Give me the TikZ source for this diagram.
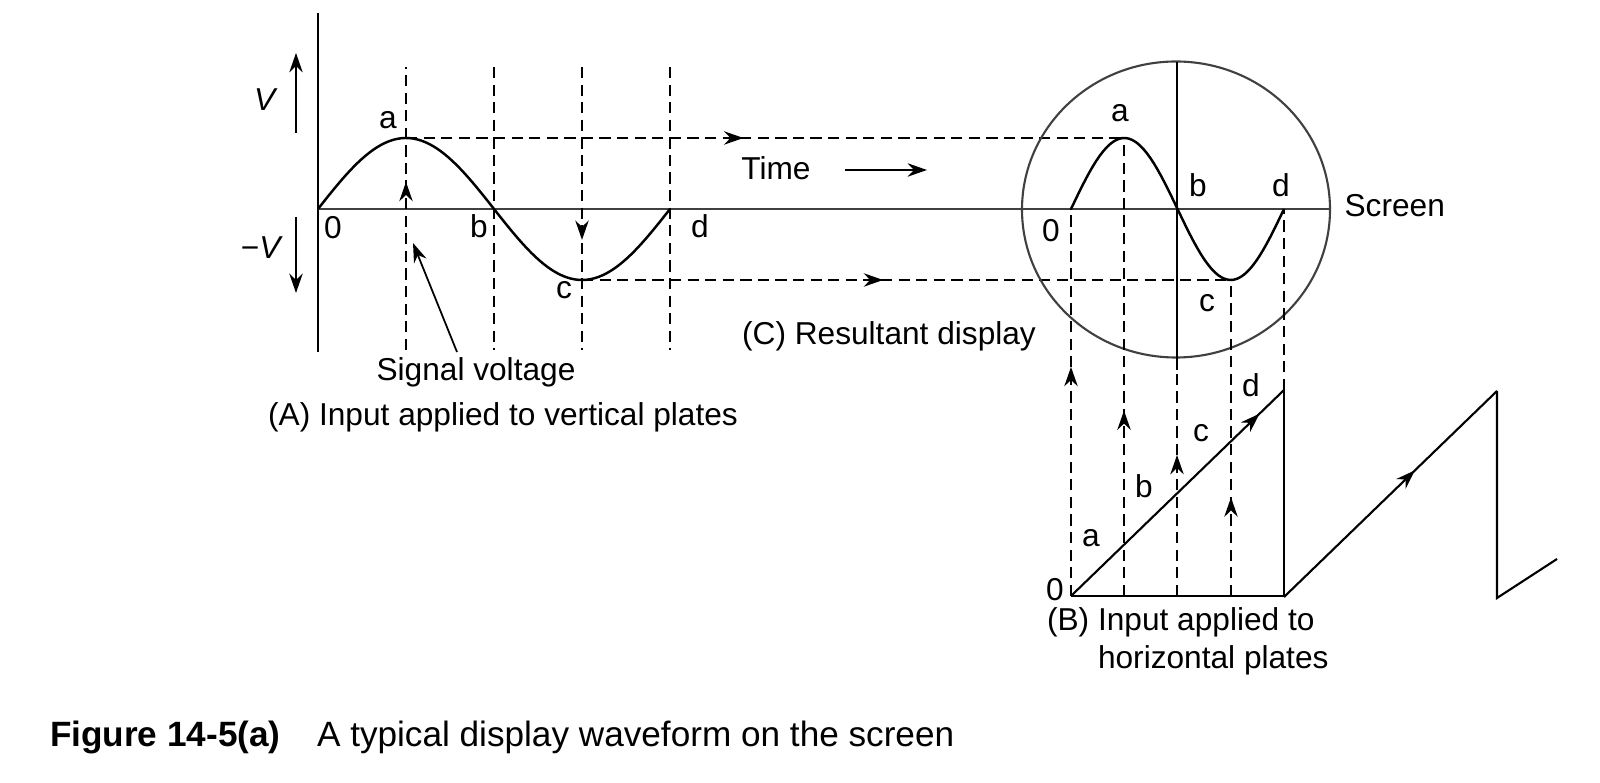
\documentclass[tikz,border=0pt]{standalone}
\usepackage{fontspec}
\setmainfont{Liberation Sans}
\usetikzlibrary{arrows.meta, decorations.markings}

\begin{document}
\begin{tikzpicture}[x=0.01cm, y=-0.01cm, >={Stealth[length=5.5pt, width=3.8pt]},
    font=\fontsize{9}{10.8}\selectfont, line width=0.6pt,
    guide/.style={dash pattern=on 3.2pt off 1.8pt},
    trace/.style={line width=0.7pt},
    midarrow/.style={postaction={decorate, decoration={markings, mark=at position #1 with {\arrow{>}}}}},
    lbl/.style={inner sep=1pt}]
    \useasboundingbox (0,0) rectangle (1600,783);

    % (A) signal on the vertical plates
    \coordinate (o1) at (318,209);
    \coordinate (a1) at (406,138);
    \coordinate (c1) at (582,280);
    \draw[line width=0.75pt] (318,13) -- (318,352);
    \draw[->] (296,133) -- (296,53);
    \draw[->] (296,217) -- (296,293);
    \node[lbl] (vpos) at (266,100) {\textit{V}};
    \node[lbl] (vneg) at (262,248) {−\textit{V}};
    \draw[black!75] (o1) -- (1331,209);
    \draw[trace] plot[domain=0:352, samples=90] ({318+\x}, {209-71*sin(\x/352*360)});
    \foreach \x in {494, 670} \draw[guide] (\x,67) -- (\x,350);
    \draw[guide, midarrow=0.594] (406,350) -- (406,67);
    \draw[guide, midarrow=0.611] (582,67) -- (582,350);
    \node[lbl] (la1) at (388,120) {a};
    \node[lbl] (l01) at (333,228) {0};
    \node[lbl] (lb1) at (479,226) {b};
    \node[lbl] (lc1) at (564,290) {c};
    \node[lbl] (ld1) at (700,226) {d};
    \node[lbl] (sig) at (476,372) {Signal voltage};
    \coordinate (sigtip) at (413,243);
    \draw[->, line width=0.5pt] (457,352) -- (sigtip);
    \node[lbl] (capA) at (503,417) {(A) Input applied to vertical plates};

    % traces across to the screen
    \draw[guide, midarrow=0.47] (a1) -- (1124,138);
    \draw[guide, midarrow=0.464] (c1) -- (1231,280);
    \node[lbl] (time) at (776,168) {Time};
    \draw[->] (845,170) -- (927,170);
    \node[lbl] (capC) at (889,336) {(C) Resultant display};

    % (C) screen
    \coordinate (scr) at (1176,209.5);
    \draw[black!75] (scr) ellipse [x radius=154, y radius=148];
    \draw (1177,62) -- (1177,370);
    \draw[trace] plot[domain=0:213, samples=60] ({1071+\x}, {209-71*sin(\x/213*360)});
    \node[lbl, anchor=west] (screen) at (1340,206) {Screen};
    \node[lbl] (la2) at (1120,113) {a};
    \node[lbl] (lb2) at (1198,185) {b};
    \node[lbl] (ld2) at (1281,185) {d};
    \node[lbl] (l02) at (1051,231) {0};
    \node[lbl] (lc2) at (1207,303) {c};

    % (B) time base on the horizontal plates
    \coordinate (s0) at (1071,596);
    \coordinate (s1) at (1284,390);
    \coordinate (s2) at (1284,597);
    \coordinate (s3) at (1497,391);
    \coordinate (s4) at (1497,598);
    \coordinate (s5) at (1557,559);
    \draw[guide, midarrow=0.592] (s0) -- (1071,209);
    \draw[guide, midarrow=0.405] (1124,596) -- (1124,138);
    \draw[guide, midarrow=0.624] (1177,596) -- (1177,370);
    \draw[guide, midarrow=0.312] (1231,596) -- (1231,280);
    \draw[guide] (s1) -- (1284,209);
    \draw (s0) -- (1284,596);
    \draw[midarrow=0.885] (s0) -- (s1);
    \draw (s1) -- (s2);
    \draw[midarrow=0.615] (s2) -- (s3);
    \draw (s3) -- (s4) -- (s5);
    \node[lbl] (l03) at (1055,590) {0};
    \node[lbl] (la3) at (1091,538) {a};
    \node[lbl] (lb3) at (1144,486) {b};
    \node[lbl] (lc3) at (1201,433) {c};
    \node[lbl] (ld3) at (1251,385) {d};
    \node[inner sep=0pt, anchor=west, align=left] (capB) at (1046,641)
        {(B) Input applied to\\\phantom{(B) }horizontal plates};

    % caption
    \node[inner sep=0pt, anchor=west, font=\fontsize{10}{12}\selectfont\bfseries] (fig) at (49,737) {Figure 14-5(a)};
    \node[inner sep=0pt, anchor=west, font=\fontsize{10}{12}\selectfont] (title) at (316,737) {A typical display waveform on the screen};
\end{tikzpicture}
\end{document}
